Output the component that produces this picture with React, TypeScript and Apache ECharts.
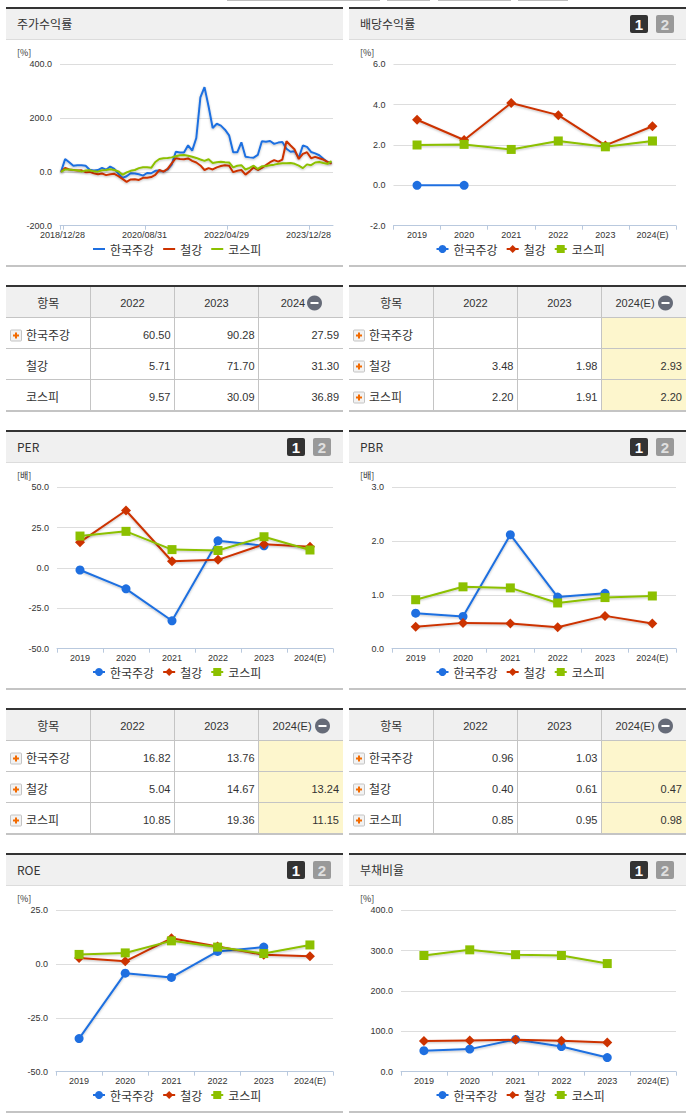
import React, { useEffect, useRef } from "react";
import * as echarts from "echarts";

const seriesNames = ["한국주강", "철강", "코스피"];
const seriesColors = ["#1f6fe0", "#cc3300", "#8cc000"];
const seriesSymbols = ["circle", "diamond", "rect"];
const seriesSymbolSizes = [9, 10, 9];
const years = ["2019", "2020", "2021", "2022", "2023", "2024(E)"];

const returnBlue = [0, 48, 36, 23, 25, 25, 23, 8, 5, 7, 15, 8, 20, 11, -6, -22, -16, -5, -6, -9, -14, -4, -5, 4, 5, 1, 9, 27, 75, 72, 72, 99, 79, 126, 277, 315, 243, 163, 179, 172, 157, 136, 73, 73, 110, 56, 54, 53, 63, 114, 112, 115, 104, 109, 111, 86, 75, 77, 52, 98, 93, 74, 69, 62, 49, 37, 33];
const returnRed = [0, 15, 9, 7, 5, 6, -1, 0, -5, -9, -6, -12, -9, -7, -16, -26, -37, -28, -27, -30, -22, -22, -19, -11, 7, 1, 11, 32, 51, 48, 47, 50, 41, 35, 24, 7, 14, 9, 17, 22, 25, 23, -1, 4, 7, -10, 2, 17, 7, 15, 25, 36, 44, 38, 46, 114, 98, 83, 48, 67, 73, 51, 56, 51, 46, 37, 31];
const returnGreen = [0, 9, 9, 7, 6, 1, 5, 6, 2, 1, 6, 7, 10, 7, 2, -11, -2, 4, 7, 14, 17, 17, 15, 37, 48, 51, 52, 54, 58, 62, 63, 60, 56, 52, 46, 41, 47, 33, 36, 38, 36, 35, 17, 23, 25, 9, 15, 23, 11, 21, 22, 25, 27, 30, 32, 32, 33, 30, 23, 14, 28, 25, 35, 37, 33, 30, 40];
const returnTickLabels: Record<number, string> = { 0: "2018/12/28", 20: "2020/08/31", 40: "2022/04/29", 60: "2023/12/28" };

const dividendBlue = [0, 0, null, null, null, null];
const dividendRed = [3.25, 2.25, 4.08, 3.48, 1.98, 2.93];
const dividendGreen = [2.0, 2.03, 1.78, 2.2, 1.91, 2.2];
const perBlue = [-1.25, -12.9, -32.7, 16.82, 13.76, null];
const perRed = [16, 35.6, 4.2, 5.04, 14.67, 13.24];
const perGreen = [19.8, 22.7, 11.4, 10.85, 19.36, 11.15];
const pbrBlue = [0.66, 0.6, 2.12, 0.96, 1.03, null];
const pbrRed = [0.41, 0.48, 0.47, 0.4, 0.61, 0.47];
const pbrGreen = [0.91, 1.15, 1.13, 0.85, 0.95, 0.98];
const roeBlue = [-34.6, -4.2, -6.2, 5.9, 7.9, null];
const roeRed = [2.8, 1.3, 12, 8.2, 4.3, 3.6];
const roeGreen = [4.5, 5.2, 10.8, 7.9, 4.9, 8.9];
const debtBlue = [52, 56, 80, 62.5, 35, null];
const debtRed = [76, 77.5, 79, 77, 72.5, null];
const debtGreen = [288, 302, 290, 288, 268, null];

const returnTable = [["60.50", "90.28", "27.59"], ["5.71", "71.70", "31.30"], ["9.57", "30.09", "36.89"]];
const dividendTable = [["", "", ""], ["3.48", "1.98", "2.93"], ["2.20", "1.91", "2.20"]];
const perTable = [["16.82", "13.76", ""], ["5.04", "14.67", "13.24"], ["10.85", "19.36", "11.15"]];
const pbrTable = [["0.96", "1.03", ""], ["0.40", "0.61", "0.47"], ["0.85", "0.95", "0.98"]];

const FONT = '"Liberation Sans", "Noto Sans CJK KR", sans-serif';
const KFONT = '"Noto Sans CJK KR", sans-serif';
const COL_X = [0, 345];
const PANEL_X = [[6, 343], [349, 686]];
const ROW_DY = [0, 423, 846];
const ROW_TOP = [0, 420, 843];
const ROW_H = [420, 423, 272];

type Panel = {
  title: string; unit: string; col: number; row: number; gridX: [number, number];
  buttons: boolean; min: number; max: number; interval: number; series: any[]; timeAxis?: boolean;
  table?: string[][]; tableHead?: string; highlight?: boolean; plusRows?: boolean[];
};

const panels: Panel[] = [
  { title: "주가수익률", unit: "[%]", col: 0, row: 0, gridX: [60, 333], buttons: false, min: -200, max: 400, interval: 200, series: [returnBlue, returnRed, returnGreen], timeAxis: true, table: returnTable, tableHead: "2024", highlight: false, plusRows: [true, false, false] },
  { title: "배당수익률", unit: "[%]", col: 1, row: 0, gridX: [393.5, 676], buttons: true, min: -2, max: 6, interval: 2, series: [dividendBlue, dividendRed, dividendGreen], table: dividendTable, tableHead: "2024(E)", highlight: true, plusRows: [true, true, true] },
  { title: "PER", unit: "[배]", col: 0, row: 1, gridX: [57, 333], buttons: true, min: -50, max: 50, interval: 25, series: [perBlue, perRed, perGreen], table: perTable, tableHead: "2024(E)", highlight: true, plusRows: [true, true, true] },
  { title: "PBR", unit: "[배]", col: 1, row: 1, gridX: [392, 676], buttons: true, min: 0, max: 3, interval: 1, series: [pbrBlue, pbrRed, pbrGreen], table: pbrTable, tableHead: "2024(E)", highlight: true, plusRows: [true, true, true] },
  { title: "ROE", unit: "[%]", col: 0, row: 2, gridX: [56, 333], buttons: true, min: -50, max: 25, interval: 25, series: [roeBlue, roeRed, roeGreen] },
  { title: "부채비율", unit: "[%]", col: 1, row: 2, gridX: [401, 676], buttons: true, min: 0, max: 400, interval: 100, series: [debtBlue, debtRed, debtGreen] },
];

function buildOption(p: Panel) {
  const ox = COL_X[p.col];
  const oy = ROW_TOP[p.row];
  const dy = ROW_DY[p.row];
  const [px0, px1] = PANEL_X[p.col];
  const els: any[] = [];
  const rect = (x: number, y: number, w: number, h: number, fill: string, r = 0, stroke?: string) =>
    els.push({ type: "rect", silent: true, shape: { x: x - ox, y: y - oy, width: w, height: h, r }, style: stroke ? { fill, stroke, lineWidth: 1 } : { fill } });
  const text = (t: string, x: number, y: number, fontSize: number, align = "left", fontFamily = FONT, fill = "#333", fontWeight = "normal") =>
    els.push({ type: "text", silent: true, style: { text: t, x: x - ox, y: y - oy, fontSize, fontFamily, fill, align, verticalAlign: "middle", fontWeight } });

  // remains of the tab row at the top of the page
  if (p.row === 0) {
    (p.col === 0 ? [[227, 118]] : [[345, 35], [387, 43], [438, 73], [518, 50]]).forEach(([x, w]) => rect(x, 0, w, 1, "#bdbdbd"));
  }

  // panel header
  const pw = px1 - px0;
  rect(px0, 9 + dy, pw, 30, "#f0f0f0");
  rect(px0, 39 + dy, pw, 1, "#dcdcdc");
  rect(px0, 7 + dy, pw, 2, "#333333");
  rect(px0, 265 + dy, pw, 2, "#c4c4c4");
  text(p.title, px0 + 11, 23.5 + dy, 12, "left", KFONT);
  text(p.unit, px0 + 11, 52 + dy, 9, "left", KFONT);
  if (p.buttons) {
    const bx = px1 - 30 - 26;
    rect(bx, 15 + dy, 18, 18, "#333333", 2);
    rect(bx + 26, 15 + dy, 18, 18, "#999999", 2);
    text("1", bx + 9, 24.5 + dy, 15, "center", FONT, "#ffffff", "bold");
    text("2", bx + 35, 24.5 + dy, 15, "center", FONT, "#e0e0e0", "bold");
  }

  // table under the chart
  if (p.table) {
    const cols = [px0, px0 + 84.5, px0 + 168.5, px0 + 252.5, px1];
    const rows = [317, 348, 379, 410];
    const heads = ["항목", "2022", "2023", p.tableHead as string];
    rect(px0, 287 + dy, pw, 30, "#f0f0f0");
    if (p.highlight) rect(cols[3], rows[0] + dy, px1 - cols[3], rows[3] - rows[0], "#fdf6cd");
    rect(px0, 285 + dy, pw, 2, "#333333");
    rows.slice(0, 3).forEach((y) => rect(px0, y + dy, pw, 1, "#c4c4c4"));
    rect(px0, 410 + dy, pw, 2, "#c4c4c4");
    cols.slice(1, 4).forEach((x) => rect(Math.floor(x), 287 + dy, 1, 123, "#c4c4c4"));
    text(heads[0], (cols[0] + cols[1]) / 2, 302.5 + dy, 12, "center", KFONT);
    text(heads[1], (cols[1] + cols[2]) / 2, 303 + dy, 11, "center");
    text(heads[2], (cols[2] + cols[3]) / 2, 303 + dy, 11, "center");
    const headX = p.tableHead === "2024" ? cols[3] + 34.5 : cols[3] + 33.5;
    text(heads[3], headX, 303 + dy, 11, "center");
    const mx = p.tableHead === "2024" ? cols[3] + 56 : cols[3] + 64;
    els.push({ type: "circle", silent: true, shape: { cx: mx - ox, cy: 303 + dy - oy, r: 7.5 }, style: { fill: "#666b78" } });
    rect(mx - 4, 302 + dy, 8, 2, "#ffffff");
    p.table.forEach((row, i) => {
      const cy = 334.5 + i * 31 + dy;
      if (p.plusRows && p.plusRows[i]) {
        rect(px0 + 4.5, cy - 4.5, 11, 11, "#f2f2f2", 1, "#c4c4c4");
        rect(px0 + 9, cy - 2, 2, 6, "#f26a00");
        rect(px0 + 7, cy, 6, 2, "#f26a00");
      }
      text(seriesNames[i], px0 + 20, cy - 0.5, 12, "left", KFONT);
      row.forEach((v, j) => text(v, cols[j + 2] - 4, cy + 0.5, 11, "right"));
    });
  }

  const topPx = 64.3 + dy - oy;
  const grid = { left: p.gridX[0] - ox, top: topPx, width: p.gridX[1] - p.gridX[0], height: 161.4 };
  const axisLine = { show: true, onZero: false, lineStyle: { color: "#b9c9de", width: 1 } };
  const labelStyle = { fontSize: 9, color: "#333", fontFamily: FONT };
  const tickAt = (i: number) => i + 0.8;
  const labelAt = (i: number) => i + 0.6;
  const tickKeys = Object.keys(returnTickLabels).map(Number);
  const xAxis: any = p.timeAxis
    ? {
        type: "value", min: 0, max: 66.6, splitLine: { show: false }, axisLine,
        axisTick: { show: true, length: 4, lineStyle: { color: "#b9c9de" }, customValues: [0, ...tickKeys.map(tickAt)] },
        axisLabel: { ...labelStyle, margin: 5, hideOverlap: false, customValues: tickKeys.map(labelAt), formatter: (v: number) => returnTickLabels[Math.round(v - 0.6)] ?? "" },
      }
    : {
        type: "category", data: years, boundaryGap: true, axisLine,
        axisTick: { show: true, length: 4, lineStyle: { color: "#b9c9de" } },
        axisLabel: { ...labelStyle, margin: 5, interval: 0 },
      };
  return {
    animation: false,
    graphic: { elements: els },
    grid,
    legend: {
      data: seriesNames, left: (p.col === 0 ? 92 : 435.5) - ox, top: 243 + dy - oy, padding: 0, itemGap: 8, itemWidth: 12, itemHeight: 10,
      selectedMode: false, textStyle: { fontSize: 12, color: "#333", fontFamily: KFONT },
      ...(p.timeAxis ? { itemStyle: { opacity: 0 } } : {}),
    },
    xAxis,
    yAxis: {
      type: "value", min: p.min, max: p.max, interval: p.interval,
      axisLine: { show: false }, axisTick: { show: false },
      splitLine: { show: true, lineStyle: { color: "#dddddd", width: 1 } },
      axisLabel: { ...labelStyle, margin: 8, padding: [3, 0, 0, 0], formatter: (v: number) => v.toFixed(1) },
    },
    series: p.series.map((values, i) => {
      // an SVG shadow filter hides a perfectly flat line, whose box has no height
      const present = values.filter((v: number | null) => v !== null);
      const flat = present.every((v: number) => v === present[0]);
      return {
        type: "line", name: seriesNames[i],
        data: p.timeAxis ? values.map((v: number, k: number) => [k + 0.25, v]) : values,
        symbol: p.timeAxis ? "none" : seriesSymbols[i],
        symbolSize: seriesSymbolSizes[i],
        showSymbol: !p.timeAxis,
        connectNulls: false,
        lineStyle: flat
          ? { color: seriesColors[i], width: 2 }
          : { color: seriesColors[i], width: 2, shadowColor: "rgba(0,0,0,0.25)", shadowBlur: 2, shadowOffsetY: 1 },
        itemStyle: { color: seriesColors[i] },
        emphasis: { disabled: true },
      };
    }),
  };
}

function ChartPanel({ p }: { p: Panel }) {
  const ref = useRef<HTMLDivElement>(null);
  useEffect(() => {
    const chart = echarts.init(ref.current as HTMLDivElement, undefined, { renderer: "svg" });
    chart.setOption(buildOption(p));
    return () => chart.dispose();
  }, [p]);
  return (
    <div
      ref={ref}
      style={{ position: "absolute", left: COL_X[p.col], top: ROW_TOP[p.row], width: p.col === 0 ? 345 : 346, height: ROW_H[p.row] }}
    />
  );
}

export default function App() {
  return (
    <div style={{ position: "absolute", left: 0, top: 0, width: 691, height: 1115, overflow: "hidden", background: "#fff" }}>
      {panels.map((p) => (
        <ChartPanel key={p.title} p={p} />
      ))}
    </div>
  );
}
